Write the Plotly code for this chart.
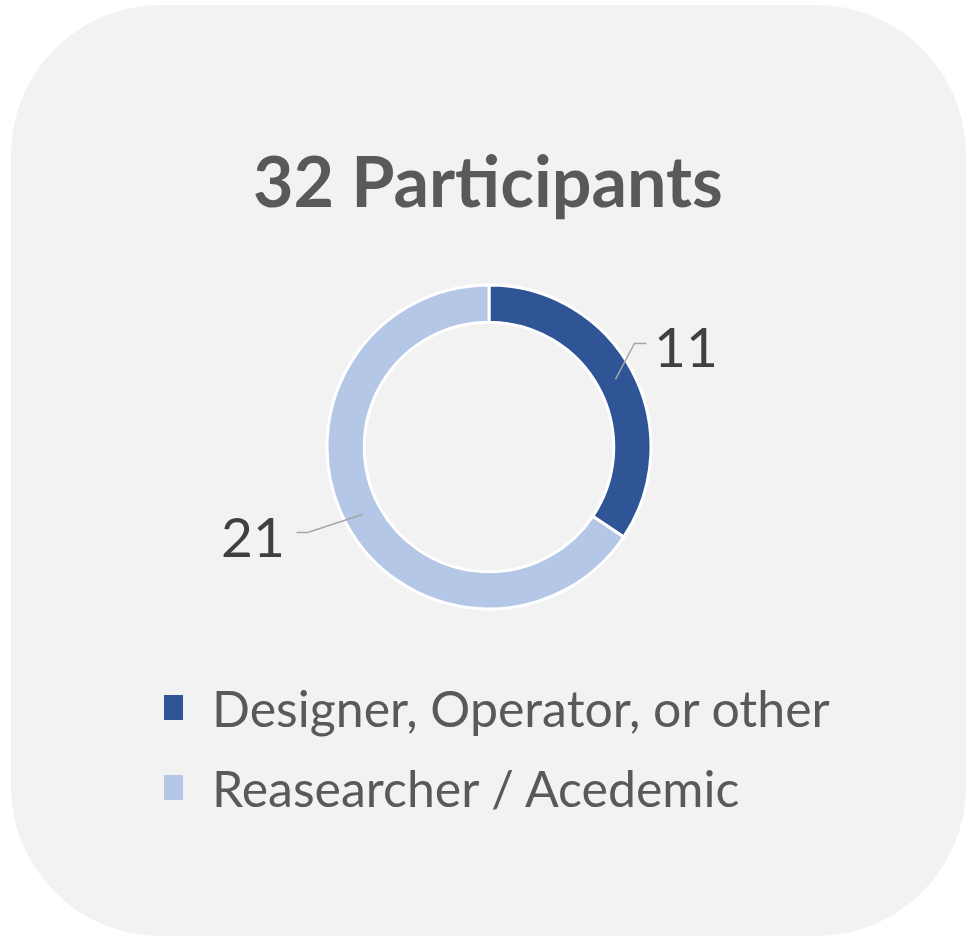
import math
import plotly.graph_objects as go

# ---- data ----
title_text = "32 Participants"
categories = ["Designer, Operator, or other", "Reasearcher / Acedemic"]
values = [11, 21]
colors = ["#2f5597", "#b4c7e7"]

# ---- layout constants (pixels) ----
W, H = 966, 937
CX, CY = 489, 447          # donut centre
R_OUT = 162
HOLE = 0.77
FONT = "Lato"

def px(x):
    return x / W

def py(y):
    return 1 - y / H

fig = go.Figure()

fig.add_trace(go.Pie(
    labels=categories,
    values=values,
    hole=HOLE,
    sort=False,
    direction="clockwise",
    rotation=0,
    marker=dict(colors=colors, line=dict(color="#ffffff", width=3)),
    textinfo="none",
    hoverinfo="label+value",
    showlegend=False,
    domain=dict(x=[px(CX - R_OUT), px(CX + R_OUT)],
                y=[py(CY + R_OUT), py(CY - R_OUT)]),
))

shapes = []
# rounded background panel
L, T, Rr, B, rad = 11, 5, 966, 936, 150
k = 0.5523 * rad
path = (
    f"M {px(L+rad)},{py(T)} L {px(Rr-rad)},{py(T)} "
    f"C {px(Rr-rad+k)},{py(T)} {px(Rr)},{py(T+rad-k)} {px(Rr)},{py(T+rad)} "
    f"L {px(Rr)},{py(B-rad)} "
    f"C {px(Rr)},{py(B-rad+k)} {px(Rr-rad+k)},{py(B)} {px(Rr-rad)},{py(B)} "
    f"L {px(L+rad)},{py(B)} "
    f"C {px(L+rad-k)},{py(B)} {px(L)},{py(B-rad+k)} {px(L)},{py(B-rad)} "
    f"L {px(L)},{py(T+rad)} "
    f"C {px(L)},{py(T+rad-k)} {px(L+rad-k)},{py(T)} {px(L+rad)},{py(T)} Z"
)
shapes.append(dict(type="path", xref="paper", yref="paper", path=path,
                   fillcolor="#f2f2f2", line=dict(width=0), layer="below"))

annotations = []
annotations.append(dict(text=f"<b>{title_text}</b>", x=px(488), y=py(180),
                        xref="paper", yref="paper", showarrow=False,
                        xanchor="center", yanchor="middle",
                        font=dict(family=FONT, size=70, color="#595959")))

# data labels with leader lines, computed from slice mid-angles
label_offsets = [  # (elbow dx, dy, end dx, text gap, text side) relative to ring midpoint
    (19, -36, 12, 6, "left"),
    (-55, 18, -11, 10, "right"),
]
total = sum(values)
cum = 0
r_mid = R_OUT * (1 + HOLE) / 2
for v, (edx, edy, ldx, gap, side) in zip(values, label_offsets):
    mid = (cum + v / 2) / total * 2 * math.pi
    cum += v
    ax = CX + r_mid * math.sin(mid)
    ay = CY - r_mid * math.cos(mid)
    ex, ey = ax + edx, ay + edy
    fx = ex + ldx
    shapes.append(dict(type="path", xref="paper", yref="paper",
                       path=f"M {px(ax)},{py(ay)} L {px(ex)},{py(ey)} L {px(fx)},{py(ey)}",
                       line=dict(color="#a6a6a6", width=1.5)))
    tx = fx + (gap if side == "left" else -gap)
    annotations.append(dict(text=str(v), x=px(tx), y=py(ey + 3),
                            xref="paper", yref="paper", showarrow=False,
                            xanchor=side, yanchor="middle",
                            font=dict(family=FONT, size=55, color="#404040")))

# custom legend
leg_x, leg_y0, leg_dy = 164, 707, 80
for i, (cat, col) in enumerate(zip(categories, colors)):
    yc = leg_y0 + i * leg_dy
    shapes.append(dict(type="rect", xref="paper", yref="paper",
                       x0=px(leg_x), x1=px(leg_x + 19),
                       y0=py(yc - 12), y1=py(yc + 13),
                       fillcolor=col, line=dict(width=0)))
    annotations.append(dict(text=cat, x=px(leg_x + 46), y=py(yc + 1),
                            xref="paper", yref="paper", showarrow=False,
                            xanchor="left", yanchor="middle",
                            font=dict(family=FONT, size=50, color="#595959")))

fig.update_layout(
    width=W, height=H,
    margin=dict(l=0, r=0, t=0, b=0),
    paper_bgcolor="#ffffff",
    plot_bgcolor="#ffffff",
    shapes=shapes,
    annotations=annotations,
    showlegend=False,
)

fig.write_html("out.html",
               config={"displayModeBar": False},
               post_script="document.body.style.margin='0';document.body.style.overflow='hidden';")
